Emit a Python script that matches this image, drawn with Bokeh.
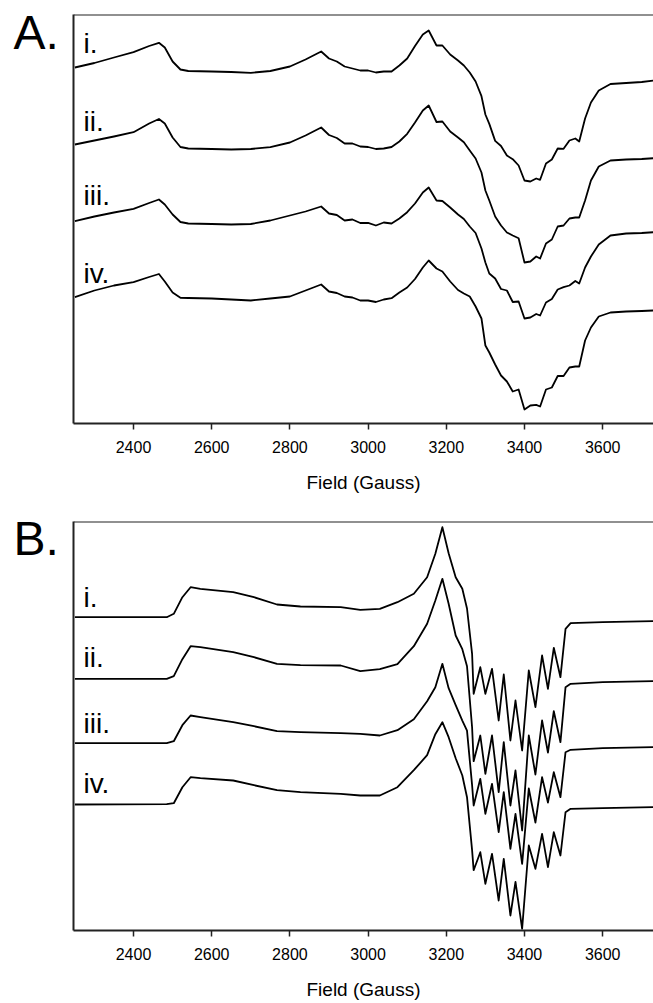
from bokeh.plotting import figure
from bokeh.models import Span, ColumnDataSource, FixedTicker, Range1d
from bokeh.layouts import column, row
from bokeh.embed import file_html
from bokeh.resources import INLINE
from bokeh.core.properties import value

FONT = "Liberation Sans"

# ---------------- data ----------------
# Panel A: field (Gauss) and signal of each spectrum (arbitrary units, 0 = high-field baseline)
field_a = [2250, 2300, 2350, 2400, 2440, 2465, 2480, 2500, 2520, 2540, 2600, 2650, 2700, 2750, 2800, 2840,
           2880, 2900, 2920, 2940, 2960, 2980, 3000, 3020, 3040, 3060, 3080, 3100, 3120, 3140, 3155, 3175,
           3190, 3210, 3230, 3245, 3260, 3275, 3290, 3300, 3310, 3325, 3340, 3355, 3370, 3385, 3400, 3415,
           3430, 3440, 3455, 3470, 3485, 3500, 3515, 3530, 3540, 3555, 3570, 3590, 3620, 3660, 3700, 3730]
a_i = [13, 17.5, 23, 28.3, 34.5, 37.7, 33, 19, 11, 9.5, 9, 8.5, 7.7, 9.5, 14, 21,
       29, 22, 19, 14, 12, 10, 10, 8, 9, 9, 15, 22, 34.5, 46, 50, 35,
       35, 26, 20, 15, 8, -1, -15.7, -34, -43.4, -60.4, -65.5, -75, -78.7, -85, -100, -101,
       -98, -99.3, -83, -79, -68, -68.3, -60, -58, -61, -38, -22, -10, -3.5, -2.5, -1.5, 0]
a_ii = [13.7, 17.7, 21.7, 26, 34.7, 39.2, 34.7, 20.7, 11.2, 9.7, 9.2, 8.7, 9.2, 11, 15.7, 22.7,
        30.7, 23.2, 20.2, 14.7, 14.7, 11.7, 11.2, 9.2, 9.7, 11.2, 16.7, 24.4, 35.7, 47.7, 52.7, 36.2,
        36.7, 26.7, 20.7, 16, 7.7, -0.3, -14.3, -32.3, -42.3, -58.3, -67.3, -74.3, -77.3, -80, -104.3, -103.3,
        -98.3, -100.3, -85.3, -81.3, -68.3, -67.3, -60.3, -59.3, -59.3, -42.3, -22.3, -8.3, -2.3, -1.3, -0.8, 0]
a_iii = [11, 15.7, 19.7, 23.4, 29.2, 32.7, 27.7, 17.7, 10.2, 8.7, 8.2, 7.7, 8.2, 11.7, 16.7, 20.7,
         25.7, 18.7, 17.2, 11.7, 12.7, 9.2, 9.4, 6.7, 9.7, 8.7, 13.7, 20, 28.7, 39.7, 44.7, 31.7,
         31.2, 24.7, 17.7, 13.2, 5.7, -0.8, -16.3, -30.3, -41.3, -46.3, -56.8, -58.3, -69.8, -69.3, -86.3, -85.3,
         -81.8, -83.3, -70.3, -66.8, -57.3, -55, -53.3, -48.8, -51.3, -35.3, -24.3, -12.3, -3.3, -1.3, -0.8, 0]
a_iv = [13.3, 20, 25, 28.3, 33.5, 36.5, 29, 18, 12.7, 12.5, 12, 11, 10, 12, 14, 20,
        26, 19, 17.5, 14, 13, 10, 10, 8.5, 11, 12.3, 18, 23, 31.5, 43, 50, 42,
        39, 29, 20.5, 17, 14, 4, -8, -35, -42, -54, -65, -71, -81, -79, -99, -95,
        -94.3, -96, -79, -77, -65.5, -65.5, -57, -56, -56, -30, -17, -6, -2, -1, -0.5, 0]

# Panel B
field_b = [2250, 2485, 2503, 2525, 2546, 2571, 2655, 2708, 2767, 2827, 2930, 2980, 3030, 3075, 3117, 3151,
           3172, 3190, 3206, 3224, 3241, 3253, 3266, 3270, 3287, 3300, 3317, 3334, 3347, 3364, 3377, 3394,
           3411, 3428, 3445, 3460, 3475, 3492, 3505, 3518, 3600, 3730]
b_i = [4, 4, 7.4, 24, 34, 32.4, 29, 24, 16.7, 14.7, 14, 11.4, 12.4, 19, 27.4, 44,
       67.4, 94, 68, 44, 32.4, 12.7, -32.6, -72.6, -46, -72.6, -47.6, -99.3, -53.3, -119.3, -79.3, -129.3,
       -49.3, -86, -34.3, -67.6, -26.6, -56, -7.6, -2, -1, 0]
b_ii = [2.4, 2.4, 5, 22, 35, 34, 29, 24, 17.4, 16, 15.7, 10, 12, 17, 35, 57.4,
        80.7, 102.4, 77.4, 45.7, 32, 15, -46, -80, -54.3, -92.6, -54.3, -111, -61, -124.3, -89.3, -149.3,
        -54.3, -93.3, -39.3, -71.3, -30, -61, -6, -2.6, -1, 0]
b_iii = [4, 4, 6, 22, 31.7, 30, 25, 21, 16, 15, 14, 13.4, 11.7, 17, 28, 46,
         60, 83.4, 59, 42, 26.6, 16.5, -38, -58.3, -31.6, -66.6, -36.6, -85, -45, -101.6, -66.6, -116.6,
         -41.3, -75.3, -30, -55.3, -25, -50, -5, -2.6, -1, 0]
b_iv = [2.7, 3, 4, 20, 30, 29, 26.7, 22, 17, 15, 13.4, 11.7, 11.7, 20, 37, 52,
        73, 85, 70, 49, 31.7, 10, -43, -63, -45, -76.6, -46.6, -93.3, -51.6, -108.3, -74.6, -121.6,
        -38.3, -61.6, -26.6, -60, -25, -48.3, -5, -1.6, -1, 0]

panel_letters = ["A.", "B."]
trace_labels = ["i.", "ii.", "iii.", "iv."]
x_ticks = [2400, 2600, 2800, 3000, 3200, 3400, 3600]
x_title = "Field (Gauss)"

# ---------------- layout ----------------
AXIS_COLOR = "#222222"
X_START, X_END = 2246.5, 3730
LETTER_W = 60


def letter_box(letter, height, baseline):
    q = figure(width=LETTER_W, height=height,
               x_range=Range1d(0, LETTER_W), y_range=Range1d(height, 0),
               output_backend="svg", toolbar_location=None,
               x_axis_location=None, y_axis_location=None,
               min_border_left=0, min_border_right=0, min_border_top=0, min_border_bottom=0)
    q.outline_line_color = None
    q.grid.visible = False
    q.text(x=[13], y=[baseline], text=[letter], text_font=value(FONT),
           text_font_size="48px", text_baseline="alphabetic", text_align="left",
           text_color="black")
    return q


def make_panel(field, traces, offsets, label_dy, height, top, bottom):
    p = figure(width=653 - LETTER_W, height=height,
               x_range=Range1d(X_START, X_END), y_range=Range1d(0, 409),
               output_backend="svg", toolbar_location=None,
               min_border_left=73 - LETTER_W, min_border_right=0,
               min_border_top=top, min_border_bottom=bottom)
    p.outline_line_color = None
    p.grid.visible = False

    for ys, off in zip(traces, offsets):
        p.line(field, [off + v for v in ys], line_color="black", line_width=1.8,
               line_join="round")

    src = ColumnDataSource(dict(x=[2272] * len(offsets),
                                y=[off + label_dy for off in offsets],
                                t=trace_labels))
    p.text(x="x", y="y", text="t", source=src, text_font=value(FONT),
           text_font_size="28px", text_baseline="alphabetic", text_align="left",
           text_color="black")

    # x axis
    xa = p.xaxis[0]
    xa.ticker = FixedTicker(ticks=x_ticks)
    xa.axis_label = x_title
    xa.axis_label_text_font = FONT
    xa.axis_label_text_font_size = "19px"
    xa.axis_label_text_font_style = "normal"
    xa.axis_label_text_color = "black"
    xa.axis_label_standoff = 16
    xa.major_label_text_font = FONT
    xa.major_label_text_font_size = "16px"
    xa.major_label_text_color = "black"
    xa.major_label_standoff = 11
    xa.axis_line_color = AXIS_COLOR
    xa.axis_line_width = 2
    xa.major_tick_line_color = AXIS_COLOR
    xa.major_tick_line_width = 1.5
    xa.major_tick_out = 6
    xa.major_tick_in = 0
    xa.minor_tick_line_color = None

    # y axis: line only
    ya = p.yaxis[0]
    ya.ticker = FixedTicker(ticks=[])
    ya.axis_line_color = AXIS_COLOR
    ya.axis_line_width = 2
    ya.major_tick_line_color = None
    ya.minor_tick_line_color = None
    ya.major_tick_out = 0
    ya.major_label_standoff = 0

    # top frame line
    p.add_layout(Span(location=409, dimension="width", line_color=AXIS_COLOR, line_width=2))
    return p


pa = make_panel(field_a, [a_i, a_ii, a_iii, a_iv], [343, 265.3, 191.3, 113], 37,
                height=508, top=14, bottom=85)
pb = make_panel(field_b, [b_i, b_ii, b_iii, b_iv], [309.3, 249.3, 183.3, 123.3], 24,
                height=495, top=13, bottom=73)
la = letter_box(panel_letters[0], 508, 22)
lb = letter_box(panel_letters[1], 495, 21)

layout = column(row(la, pa), row(lb, pb))
open("out.html", "w").write(file_html(layout, INLINE))
